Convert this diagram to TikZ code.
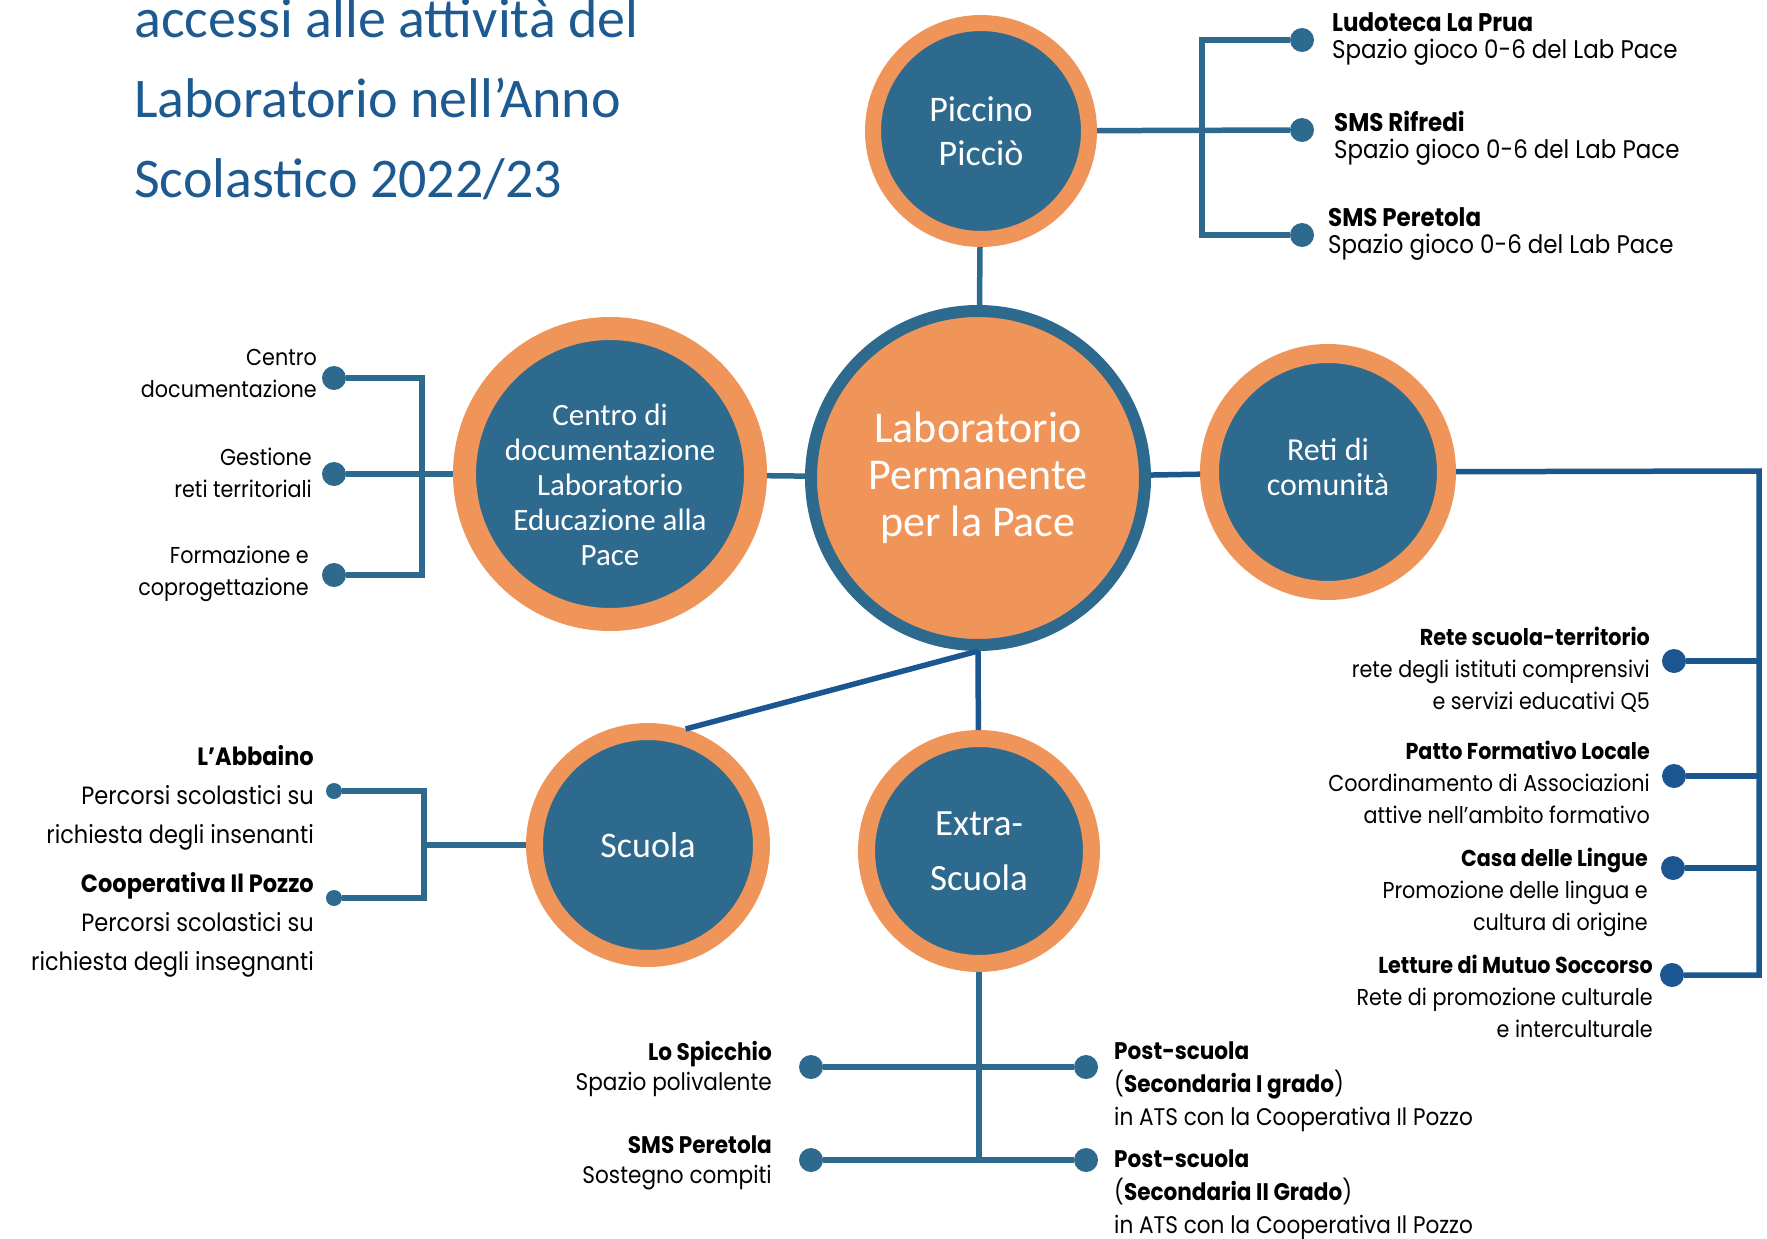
\documentclass[tikz,border=0pt]{standalone}
\usepackage{fontspec}
\setmainfont[FakeStretch=0.9]{Poppins}
\newfontfamily\dispfont{Carlito}
\definecolor{ringorange}{HTML}{F0955A}
\definecolor{circblue}{HTML}{2E6A8E}
\definecolor{linkdark}{HTML}{1B5690}
\definecolor{titleblue}{HTML}{1E5A92}
\tikzset{
	ring/.style={circle, draw=ringorange, fill=circblue, text=white, align=center, inner sep=0pt},
	hub/.style={circle, draw=circblue, fill=ringorange, text=white, align=center, inner sep=0pt},
	dot/.style={circle, fill=circblue, minimum size=24pt, inner sep=0pt},
	darkdot/.style={dot, fill=linkdark},
	smalldot/.style={dot, minimum size=16pt},
	link/.style={circblue, line width=5.5pt},
	darklink/.style={linkdark, line width=5.5pt},
	lblright/.style={inner sep=0pt, align=right, anchor=base east},
	lblleft/.style={inner sep=0pt, align=left, anchor=base west},
}
\begin{document}
\begin{tikzpicture}[x=1pt, y=-1pt]
	\useasboundingbox (0,0) rectangle (1767,1239);
	\clip (0,0) rectangle (1767,1239);
	% titolo
	\node [lblleft, text=titleblue, font=\dispfont\fontsize{56}{80}\selectfont] (titolo) at (134,197) {accessi alle attività del\\Laboratorio nell’Anno\\Scolastico 2022/23};
	% cerchi
	\node [hub, line width=12pt, minimum size=334pt, font=\dispfont\fontsize{44}{47}\selectfont] (lab) at (978,478) {Laboratorio\\Permanente\\per la Pace};
	\node [ring, line width=16pt, minimum size=216pt, font=\dispfont\fontsize{36}{44}\selectfont] (piccino) at (981,131) {Piccino\\Picciò};
	\node [ring, line width=23pt, minimum size=291pt, font=\dispfont\fontsize{31}{35}\selectfont] (centro) at (610,474) {\rule{0pt}{43pt}Centro di\\documentazione\\Laboratorio\\Educazione alla\\Pace};
	\node [ring, line width=19pt, minimum size=237pt, font=\dispfont\fontsize{32}{35}\selectfont] (reti) at (1328,472) {Reti di\\comunità\rule[-10pt]{0pt}{0pt}};
	\node [ring, line width=17pt, minimum size=227pt, font=\dispfont\fontsize{36}{44}\selectfont] (scuola) at (648,845) {Scuola};
	\node [ring, line width=17pt, minimum size=225pt, font=\dispfont\fontsize{37}{55}\selectfont] (extra) at (979,851) {Extra-\\Scuola};
	% Piccino Picciò
	\node [dot] (pd1) at (1302,40) {};
	\node [dot] (pd2) at (1302,130) {};
	\node [dot] (pd3) at (1302,235) {};
	\coordinate (pj) at (1202,130);
	\draw [link] (lab) -- (piccino);
	\draw [link] (piccino) -- (pd2);
	\draw [link] (pd1) -- (pd1 -| pj) -- (pd3 -| pj) -- (pd3);
	\begin{scope}[font=\fontsize{25.5}{27}\selectfont]
		\node [lblleft] (pl1) at (1332,59) {\textbf{Ludoteca La Prua}\\Spazio gioco 0-6 del Lab Pace};
		\node [lblleft] (pl2) at (1334,158) {\textbf{SMS Rifredi}\\Spazio gioco 0-6 del Lab Pace};
		\node [lblleft] (pl3) at (1328,253) {\textbf{SMS Peretola}\\Spazio gioco 0-6 del Lab Pace};
	\end{scope}
	% Centro di documentazione
	\node [dot] (cd1) at (334,378) {};
	\node [dot] (cd2) at (334,474) {};
	\node [dot] (cd3) at (334,575) {};
	\coordinate (cj) at (422,474);
	\draw [link] (lab) -- (centro);
	\draw [link] (centro) -- (cd2);
	\draw [link] (cd1) -- (cd1 -| cj) -- (cd3 -| cj) -- (cd3);
	\begin{scope}[font=\fontsize{23}{32}\selectfont]
		\node [lblright] (cl1) at (317,397) {Centro\\documentazione};
		\node [lblright] (cl2) at (312,497) {Gestione\\reti territoriali};
		\node [lblright] (cl3) at (309,595) {Formazione e\\coprogettazione};
	\end{scope}
	% Reti di comunità
	\node [darkdot] (rd1) at (1674,661) {};
	\node [darkdot] (rd2) at (1674,776) {};
	\node [darkdot] (rd3) at (1673,868) {};
	\node [darkdot] (rd4) at (1672,975) {};
	\coordinate (rj) at (1759,471);
	\draw [darklink] (lab) -- (reti);
	\draw [darklink] (reti) -- (rj) -- (rj |- rd4) -- (rd4);
	\foreach \d in {rd1,rd2,rd3}
		\draw [darklink] (\d) -- (\d -| rj);
	\begin{scope}[font=\fontsize{23}{32}\selectfont]
		\node [lblright] (rl1) at (1650,709) {\textbf{Rete scuola-territorio}\\rete degli istituti comprensivi\\e servizi educativi Q5};
		\node [lblright] (rl2) at (1650,823) {\textbf{Patto Formativo Locale}\\Coordinamento di Associazioni\\attive nell’ambito formativo};
		\node [lblright] (rl3) at (1648,930) {\textbf{Casa delle Lingue}\\Promozione delle lingua e\\cultura di origine};
		\node [lblright] (rl4) at (1653,1037) {\textbf{Letture di Mutuo Soccorso}\\Rete di promozione culturale\\e interculturale};
	\end{scope}
	% Scuola
	\node [smalldot] (sd1) at (334,791) {};
	\node [smalldot] (sd2) at (334,898) {};
	\coordinate (sj) at (424,845);
	\draw [darklink] (lab.south) -- (scuola.72);
	\draw [link] (scuola) -- (sj);
	\draw [link] (sd1) -- (sd1 -| sj) -- (sd2 -| sj) -- (sd2);
	\begin{scope}[font=\fontsize{25}{39}\selectfont]
		\node [lblright] (sl1) at (314,843) {\textbf{L’Abbaino}\\Percorsi scolastici su\\richiesta degli insenanti};
		\node [lblright] (sl2) at (314,970) {\textbf{Cooperativa Il Pozzo}\\Percorsi scolastici su\\richiesta degli insegnanti};
	\end{scope}
	% Extra-Scuola
	\node [dot] (ed1) at (811,1067) {};
	\node [dot] (ed2) at (1086,1067) {};
	\node [dot] (ed3) at (811,1160) {};
	\node [dot] (ed4) at (1086,1160) {};
	\coordinate (ej) at (979,1160);
	\draw [darklink] (lab.south) -- (extra);
	\draw [link] (extra) -- (ej);
	\draw [link] (ed1) -- (ed2);
	\draw [link] (ed3) -- (ed4);
	\begin{scope}[font=\fontsize{24}{30}\selectfont]
		\node [lblright] (el1) at (772,1090) {\textbf{Lo Spicchio}\\Spazio polivalente};
		\node [lblright] (el2) at (772,1183) {\textbf{SMS Peretola}\\Sostegno compiti};
	\end{scope}
	\begin{scope}[font=\fontsize{24}{33}\selectfont]
		\node [lblleft] (el3) at (1114,1125) {\textbf{Post-scuola}\\(\textbf{Secondaria I grado})\\in ATS con la Cooperativa Il Pozzo};
		\node [lblleft] (el4) at (1114,1233) {\textbf{Post-scuola}\\(\textbf{Secondaria II Grado})\\in ATS con la Cooperativa Il Pozzo};
	\end{scope}
\end{tikzpicture}
\end{document}
